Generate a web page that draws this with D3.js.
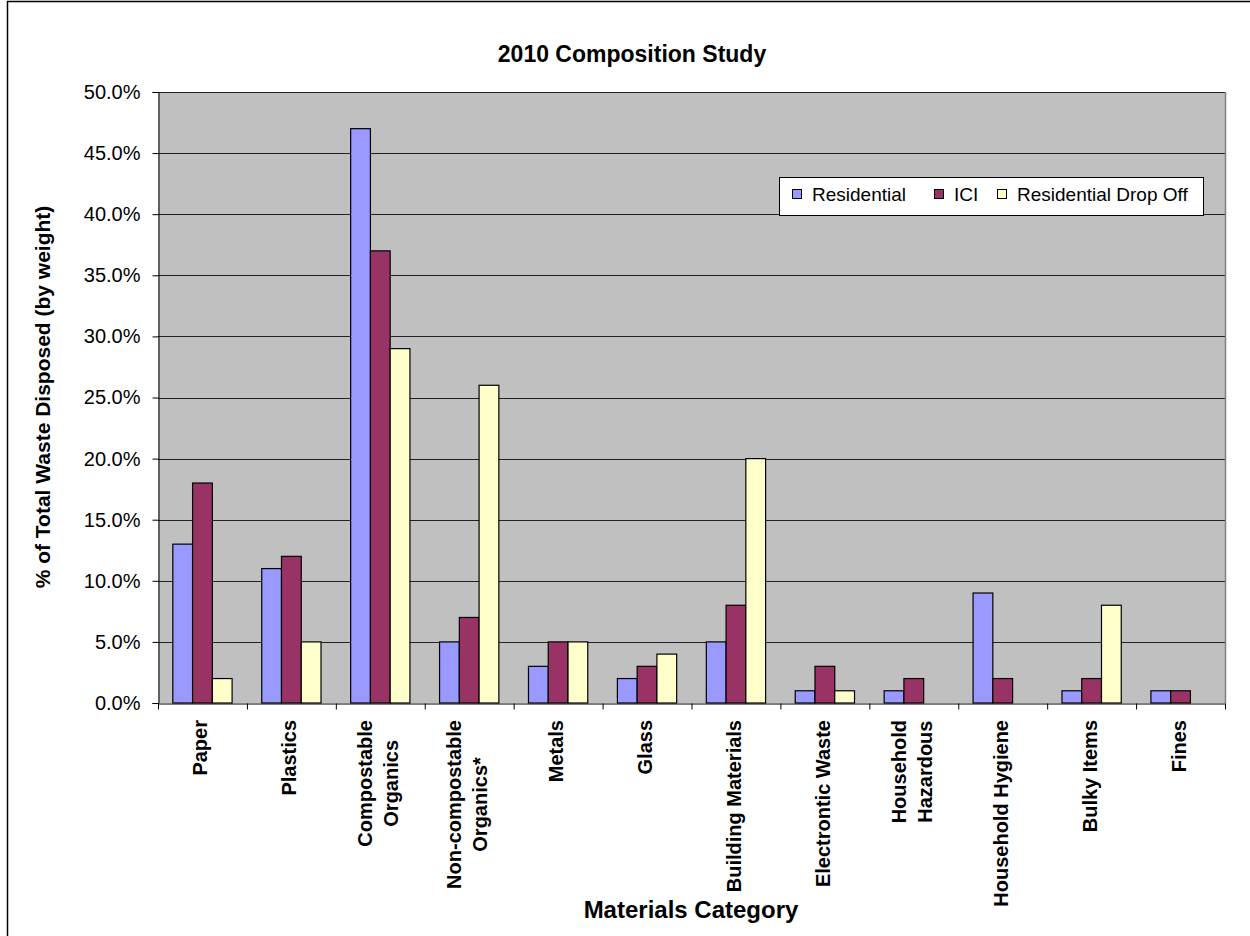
<!DOCTYPE html>
<html><head><meta charset="utf-8">
<script src="https://cdn.jsdelivr.net/npm/d3@7"></script>
<style>
html,body{margin:0;padding:0;background:#fff;}
text{font-family:"Liberation Sans",Arial,sans-serif;}
</style></head>
<body>
<svg id="chart" width="1250" height="936"></svg>
<script>
const categories = [["Paper"],["Plastics"],["Compostable","Organics"],["Non-compostable","Organics*"],["Metals"],["Glass"],["Building Materials"],["Electrontic Waste"],["Household","Hazardous"],["Household Hygiene"],["Bulky Items"],["Fines"]];
const seriesNames = ["Residential","ICI","Residential Drop Off"];
const residential = [13,11,47,5,3,2,5,1,1,9,1,1];
const ici = [18,12,37,7,5,3,8,3,2,2,2,1];
const dropOff = [2,5,29,26,5,4,20,1,0,0,8,0];
const yTicks = [0,5,10,15,20,25,30,35,40,45,50];
const colors = ["#9999FF","#993366","#FFFFCC"];

const series = [residential, ici, dropOff];
const svg = d3.select("#chart");
const m = {left:158, right:1225, top:92, bottom:703};

// outer border
svg.append("rect").attr("x",7.5).attr("y",1.5).attr("width",1300).attr("height",1000)
  .attr("fill","#fff").attr("stroke","#000").attr("stroke-width",1.5);

const x0 = d3.scaleBand().domain(d3.range(categories.length)).range([m.left,m.right]).paddingInner(0).paddingOuter(0);
const bw = x0.bandwidth()/4.5;
const y = d3.scaleLinear().domain([0,50]).range([m.bottom,m.top]);

svg.append("rect").attr("x",m.left).attr("y",m.top).attr("width",m.right-m.left).attr("height",m.bottom-m.top).attr("fill","#C0C0C0");

// gridlines
svg.append("g").selectAll("line").data(yTicks.slice(1)).join("line")
  .attr("x1",m.left).attr("x2",m.right)
  .attr("y1",d=>Math.round(y(d))+0.5).attr("y2",d=>Math.round(y(d))+0.5)
  .attr("stroke","#222").attr("stroke-width",1);
// right border
svg.append("line").attr("x1",m.right+0.5).attr("x2",m.right+0.5).attr("y1",m.top).attr("y2",m.bottom).attr("stroke","#808080").attr("stroke-width",1.5);

// bars
const g = svg.append("g");
series.forEach((vals,si)=>{
  g.selectAll(null).data(vals).join("rect")
    .attr("x",(d,i)=>x0(i)+0.75*bw+si*bw)
    .attr("y",d=>y(d))
    .attr("width",bw)
    .attr("height",d=>m.bottom-y(d))
    .attr("fill",colors[si])
    .attr("stroke",d=>d>0?"#000":"none").attr("stroke-width",1.2);
});

// y axis
const yAxis = d3.axisLeft(y).tickValues(yTicks).tickSize(6).tickPadding(12).tickFormat(d=>d.toFixed(1)+"%");
const ya = svg.append("g").attr("transform",`translate(${m.left+0.5},0)`).call(yAxis);
ya.select(".domain").attr("stroke","#000");
ya.selectAll(".tick line").attr("stroke","#000");
ya.selectAll(".tick text").attr("font-size",20).attr("fill","#000").attr("font-family","Liberation Sans, Arial, sans-serif");

// x axis
const xb = d3.scaleLinear().domain([0,categories.length]).range([m.left,m.right]);
const xa = svg.append("g").attr("transform",`translate(0,${m.bottom+0.5})`)
  .call(d3.axisBottom(xb).tickValues(d3.range(categories.length+1)).tickSize(6).tickSizeOuter(0).tickFormat(""));
xa.select(".domain").attr("stroke","#000");
xa.selectAll(".tick line").attr("stroke","#000");

// category labels
categories.forEach((lines,i)=>{
  const cx = x0(i)+x0.bandwidth()/2;
  const grp = svg.append("g");
  const texts = lines.map(t=>grp.append("text").text(t).attr("font-size",20).attr("font-weight","bold").attr("text-anchor","middle"));
  const maxLen = d3.max(texts,t=>t.node().getComputedTextLength());
  const lh = 26;
  const n = lines.length;
  texts.forEach((t,li)=>{
    const xx = cx + (li-(n-1)/2)*lh + 5;
    const yy = m.bottom + 17 + maxLen/2;
    t.attr("transform",`translate(${xx},${yy}) rotate(-90)`);
  });
});

// titles
svg.append("text").attr("x",632).attr("y",62).attr("text-anchor","middle").attr("font-size",23).attr("font-weight","bold").text("2010 Composition Study");
svg.append("text").attr("x",691).attr("y",918).attr("text-anchor","middle").attr("font-size",24).attr("font-weight","bold").text("Materials Category");
svg.append("text").attr("transform","translate(50,397) rotate(-90)").attr("text-anchor","middle").attr("font-size",21).attr("font-weight","bold").text("% of Total Waste Disposed (by weight)");

// legend
const lg = svg.append("g");
lg.append("rect").attr("x",779.5).attr("y",177.5).attr("width",424).attr("height",38).attr("fill","#fff").attr("stroke","#000").attr("stroke-width",1);
const lx = [792,934,997];
seriesNames.forEach((nm,i)=>{
  lg.append("rect").attr("x",lx[i]+0.5).attr("y",189.5).attr("width",9).attr("height",9).attr("fill",colors[i]).attr("stroke","#000").attr("stroke-width",1);
  lg.append("text").attr("x",lx[i]+20).attr("y",201).attr("font-size",19).text(nm);
});
</script>
</body></html>
